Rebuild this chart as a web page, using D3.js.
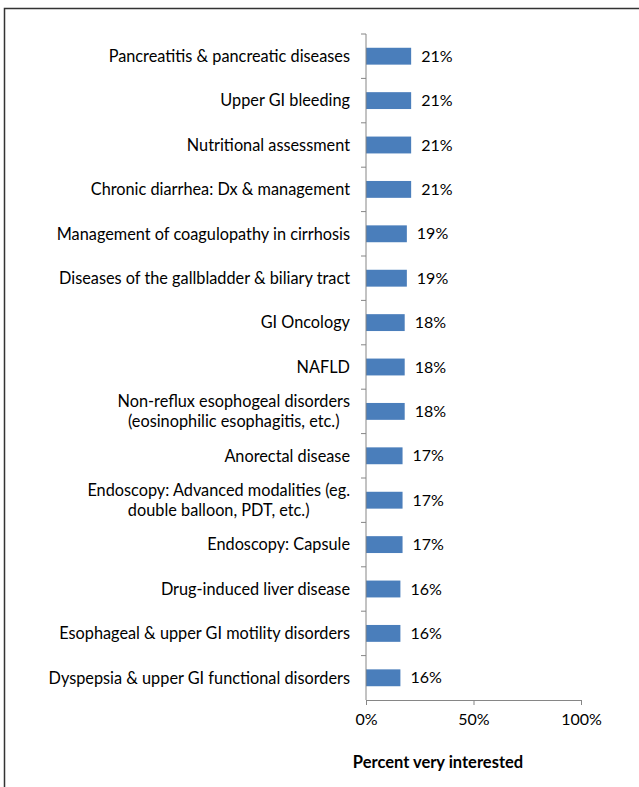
<!DOCTYPE html>
<html>
<head>
<meta charset="utf-8">
<script src="https://cdn.jsdelivr.net/npm/d3@7"></script>
<style>
  body { margin: 0; background: #fff; }
  text { font-family: Lato, "Open Sans", sans-serif; fill: #000; }
</style>
</head>
<body>
<div id="chart-area"></div>
<script>
// categories top to bottom, "\n" marks a line break in the label
var topics = [
  "Pancreatitis & pancreatic diseases",
  "Upper GI bleeding",
  "Nutritional assessment",
  "Chronic diarrhea: Dx & management",
  "Management of coagulopathy in cirrhosis",
  "Diseases of the gallbladder & biliary tract",
  "GI Oncology",
  "NAFLD",
  "Non-reflux esophogeal disorders\n(eosinophilic esophagitis, etc.)",
  "Anorectal disease",
  "Endoscopy: Advanced modalities (eg.\ndouble balloon, PDT, etc.)",
  "Endoscopy: Capsule",
  "Drug-induced liver disease",
  "Esophageal & upper GI motility disorders",
  "Dyspepsia & upper GI functional disorders"
];
var percents = [21, 21, 21, 21, 19, 19, 18, 18, 18, 17, 17, 17, 16, 16, 16];
var xTicks = [0, 50, 100];
var xTitle = "Percent very interested";

var width = 639, height = 787;
var axisX = 366, axisRight = 581, axisTop = 34, axisBottom = 700;

var svg = d3.select("#chart-area").append("svg")
    .attr("width", width).attr("height", height);

// outer frame, runs off the right and bottom edges
svg.append("rect").attr("x", 4.5).attr("y", 8.5)
    .attr("width", 700).attr("height", 800)
    .attr("fill", "none").attr("stroke", "#333").attr("stroke-width", 1.5);

var x = d3.scaleLinear().domain([0, 100]).range([axisX, axisRight]);
var y = d3.scaleBand().domain(topics).range([axisTop, axisBottom])
    .paddingInner(0.62).paddingOuter(0.31);

var gap = (y.step() - y.bandwidth()) / 2;

// bars
svg.selectAll("rect.bar").data(topics).enter().append("rect")
    .attr("class", "bar")
    .attr("x", x(0))
    .attr("y", function(d) { return y(d); })
    .attr("width", function(d, i) { return x(percents[i]) - x(0); })
    .attr("height", y.bandwidth())
    .attr("fill", "#4A7EBB");

// value labels
svg.selectAll("text.val").data(topics).enter().append("text")
    .attr("class", "val")
    .attr("x", function(d, i) { return x(percents[i]) + 10; })
    .attr("y", function(d) { return y(d) + y.bandwidth() / 2; })
    .attr("dy", "0.35em")
    .attr("font-size", "16px")
    .text(function(d, i) { return percents[i] + "%"; });

// category axis: line plus ticks at band boundaries
var catAxis = svg.append("g");
catAxis.append("line")
    .attr("x1", axisX).attr("x2", axisX)
    .attr("y1", axisTop).attr("y2", axisBottom)
    .attr("stroke", "#868686");
catAxis.selectAll("line.tick").data(topics).enter().append("line")
    .attr("class", "tick")
    .attr("x1", axisX - 5).attr("x2", axisX)
    .attr("y1", function(d) { return y(d) - gap; })
    .attr("y2", function(d) { return y(d) - gap; })
    .attr("stroke", "#868686");

// category labels, multi-line blocks centred on themselves and right aligned
catAxis.selectAll("text.cat").data(topics).enter().append("text")
    .attr("class", "cat")
    .attr("font-size", "16.3px")
    .each(function(d) {
      var t = d3.select(this);
      var lines = d.split("\n");
      var cy = y(d) + y.bandwidth() / 2;
      var lh = 20;
      lines.forEach(function(line, k) {
        t.append("tspan")
          .attr("y", cy + (k - (lines.length - 1) / 2) * lh)
          .attr("dy", "0.35em")
          .text(line);
      });
      var maxW = 0;
      t.selectAll("tspan").each(function() {
        maxW = Math.max(maxW, this.getComputedTextLength());
      });
      t.selectAll("tspan")
        .attr("x", 350 - maxW / 2)
        .attr("text-anchor", "middle");
    });

// value axis
var xAxis = d3.axisBottom(x).tickValues(xTicks).tickSize(5)
    .tickFormat(function(d) { return d + "%"; });
var xg = svg.append("g").attr("transform", "translate(0," + axisBottom + ")").call(xAxis);
xg.select(".domain").attr("stroke", "#868686");
xg.selectAll(".tick line").attr("stroke", "#868686");
xg.selectAll(".tick text").attr("font-size", "16px").attr("font-family", "Lato, sans-serif")
    .attr("fill", "#000").attr("y", 14);

svg.append("text")
    .attr("x", 438).attr("y", 762).attr("dy", "0.35em")
    .attr("text-anchor", "middle")
    .attr("font-size", "16.5px").attr("font-weight", "bold")
    .text(xTitle);
</script>
</body>
</html>
